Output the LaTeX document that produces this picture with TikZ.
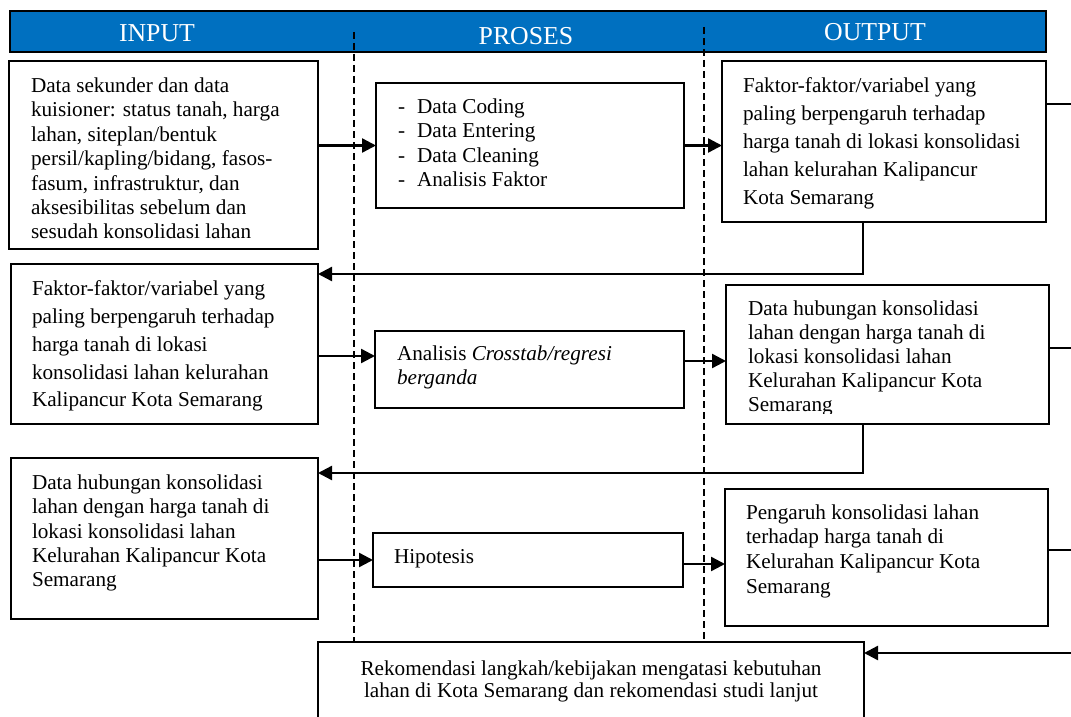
\documentclass[tikz,border=0pt]{standalone}
\usepackage{fontspec}
\setmainfont{Liberation Serif}
\usetikzlibrary{arrows.meta,calc}
\definecolor{hdrblue}{RGB}{0,112,192}
\newcommand{\bodyfs}[1]{\fontsize{21.2}{#1}\selectfont}
\tikzset{
  box/.style={draw=black, line width=2.3pt, rectangle, inner sep=0pt, outer sep=0pt, anchor=north west},
  txt/.style={inner sep=0pt, outer sep=0pt, anchor=north west, align=left},
  arr/.style={line width=2.4pt, -{Triangle[length=14pt,width=14pt]}},
  plain/.style={line width=2.4pt},
  dashline/.style={line width=1.6pt, dash pattern=on 7pt off 4pt},
  hdrtxt/.style={text=white, font=\fontsize{25.8}{30}\selectfont, inner sep=0pt, anchor=base}
}
\begin{document}
\begin{tikzpicture}[x=1pt,y=-1pt]
\useasboundingbox (0,0) rectangle (1071,717);
% header
\node[box, fill=hdrblue, minimum width=1036pt, minimum height=41pt, line width=2pt] (hdr) at (10,11) {};
\node[hdrtxt] (hin) at (157,41.7) {INPUT};
\node[hdrtxt] (hpr) at (526,45) {PROSES};
\node[hdrtxt] (hout) at (875,40.7) {OUTPUT};
% dashed separators
\coordinate (d1t) at (354,32);
\coordinate (d1b) at (354,642);
\coordinate (d2t) at (704,27);
\coordinate (d2b) at (704,642);
\draw[dashline] (d1t) -- (d1b);
\draw[dashline] (d2t) -- (d2b);
% boxes
\node[box, minimum width=309pt, minimum height=188pt] (A1) at (9,61) {};
\node[box, minimum width=307pt, minimum height=160pt] (A2) at (11,264) {};
\node[box, minimum width=307pt, minimum height=161pt] (A3) at (11,458) {};
\node[box, minimum width=308pt, minimum height=125pt] (P1) at (376,83) {};
\node[box, minimum width=309pt, minimum height=77pt] (P2) at (375,331) {};
\node[box, minimum width=310pt, minimum height=54pt] (P3) at (373,533) {};
\node[box, minimum width=324pt, minimum height=161pt] (O1) at (722,61) {};
\node[box, minimum width=323pt, minimum height=139pt] (O2) at (726,285) {};
\node[box, minimum width=323pt, minimum height=137pt] (O3) at (725,489) {};
\node[box, minimum width=546pt, minimum height=120pt] (Rek) at (318,642) {};
% texts
\node[txt, font={\bodyfs{24.4}}] (tA1) at (31,77.7) {Data sekunder dan data\\kuisioner: status tanah, harga\\lahan, siteplan/bentuk\\persil/kapling/bidang, fasos-\\fasum, infrastruktur, dan\\aksesibilitas sebelum dan\\sesudah konsolidasi lahan};
\node[txt, font={\bodyfs{27.9}}] (tA2) at (32,280.4) {Faktor-faktor/variabel yang\\paling berpengaruh terhadap\\harga tanah di lokasi\\konsolidasi lahan kelurahan\\Kalipancur Kota Semarang};
\node[txt, font={\bodyfs{24.3}}] (tA3) at (32,474.7) {Data hubungan konsolidasi\\lahan dengan harga tanah di\\lokasi konsolidasi lahan\\Kelurahan Kalipancur Kota\\Semarang};
\node[txt, font={\bodyfs{24.4}}] (tP1) at (398,98.7) {-\hspace{12pt}Data Coding\\-\hspace{12pt}Data Entering\\-\hspace{12pt}Data Cleaning\\-\hspace{12pt}Analisis Faktor};
\node[txt, font={\bodyfs{24}}] (tP2) at (397,345.4) {Analisis \textit{Crosstab/regresi}\\\textit{berganda}};
\node[txt, font={\bodyfs{24}}] (tP3) at (394,549.4) {Hipotesis};
\node[txt, font={\bodyfs{28}}] (tO1) at (743,77.1) {Faktor-faktor/variabel yang\\paling berpengaruh terhadap\\harga tanah di lokasi konsolidasi\\lahan kelurahan Kalipancur\\Kota Semarang};
\begin{scope}
\clip (727,286) rectangle (1048,413);
\node[txt, font={\bodyfs{24.2}}] (tO2) at (748,300.4) {Data hubungan konsolidasi\\lahan dengan harga tanah di\\lokasi konsolidasi lahan\\Kelurahan Kalipancur Kota\\Semarang};
\end{scope}
\node[txt, font={\bodyfs{24.7}}] (tO3) at (746,504.4) {Pengaruh konsolidasi lahan\\terhadap harga tanah di\\Kelurahan Kalipancur Kota\\Semarang};
\node[txt, anchor=north, align=center, font={\bodyfs{22.5}}] (tRek) at (591,660.4) {Rekomendasi langkah/kebijakan mengatasi kebutuhan\\lahan di Kota Semarang dan rekomendasi studi lanjut};
% forward connectors
\draw[arr] (A1.east |- P1.west) -- (P1.west);
\draw[arr] (P1.east) -- (P1.east -| O1.west);
\path ($(A2.east)+(0,12)$) coordinate (a2o);
\draw[arr] (a2o) -- (a2o -| P2.west);
\path ($(P2.east)+(0,-8.5)$) coordinate (p2o);
\draw[arr] (p2o) -- (p2o -| O2.west);
\draw[arr] (A3.east |- P3.west) -- (P3.west);
\path ($(P3.east)+(0,4)$) coordinate (p3o);
\draw[arr] (p3o) -- (p3o -| O3.west);
% feedback connectors
\draw[arr] ($(O1.south)+(-21,0)$) |- ($(A2.north east)+(0,10)$);
\draw[arr] ($(O2.south)+(-24.5,0)$) |- ($(A3.north east)+(0,15)$);
% right-hand connectors to the page edge
\coordinate (R) at (1071,0);
\path ($(O1.east)+(0,-37.5)$) coordinate (o1r);
\draw[plain] (o1r) -- (o1r -| R);
\path ($(O2.east)+(0,-6.5)$) coordinate (o2r);
\draw[plain] (o2r) -- (o2r -| R);
\path ($(O3.east)+(0,-7.5)$) coordinate (o3r);
\draw[plain] (o3r) -- (o3r -| R);
\coordinate (rb) at (1071,653);
\draw[arr] (rb) -- (rb -| Rek.east);
\end{tikzpicture}
\end{document}
